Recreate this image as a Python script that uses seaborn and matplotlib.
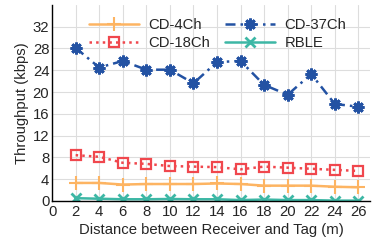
import numpy as np
import pandas as pd
import matplotlib
matplotlib.use('Agg')
import matplotlib.pyplot as plt
import seaborn as sns

dist = [2, 4, 6, 8, 10, 12, 14, 16, 18, 20, 22, 24, 26]
cd4 = [3.3, 3.3, 3.0, 3.1, 3.1, 3.1, 3.2, 3.1, 2.8, 2.8, 2.8, 2.6, 2.5]
cd18 = [8.4, 8.1, 7.0, 6.8, 6.4, 6.3, 6.2, 5.8, 6.3, 6.1, 5.9, 5.7, 5.5]
cd37 = [28.1, 24.5, 25.7, 24.1, 24.1, 21.6, 25.5, 25.7, 21.3, 19.5, 23.3, 17.8, 17.3]
rble = [0.5, 0.4, 0.3, 0.3, 0.35, 0.3, 0.3, 0.15, 0.25, 0.15, 0.15, 0.05, 0.05]

sns.set_style('whitegrid')
plt.rcParams['font.family'] = ['Liberation Sans', 'DejaVu Sans']

fig, ax = plt.subplots(figsize=(3.72, 2.45), dpi=100)
fig.subplots_adjust(left=0.14, right=0.995, bottom=0.18, top=0.98)

c4, c18, c37, cr = '#FDB462', '#F0474D', '#2352A3', '#3DB7A5'
sns.lineplot(x=dist, y=cd4, ax=ax, color=c4, marker='+', markersize=10,
             mec=c4, mew=1.5, linestyle='-', lw=1.8, label='CD-4Ch')
sns.lineplot(x=dist, y=cd18, ax=ax, color=c18, marker='s', markersize=6.5,
             mfc='none', mec=c18, mew=1.6, linestyle=':', lw=1.8, label='CD-18Ch')
sns.lineplot(x=dist, y=cd37, ax=ax, color=c37, marker=(8, 2, 0), markersize=8.5,
             mec=c37, mew=2.0, linestyle=(0, (4, 2, 1, 2)), lw=1.8, label='CD-37Ch')
sns.lineplot(x=dist, y=rble, ax=ax, color=cr, marker='x', markersize=6.5,
             mec=cr, mew=2.0, linestyle='-', lw=1.8, label='RBLE')

ax.set_xlim(0, 27)
ax.set_ylim(0, 36)
ax.set_xticks(range(0, 27, 2))
ax.set_yticks(range(0, 33, 4))
ax.tick_params(axis='x', labelsize=10.7, pad=3, length=0)
ax.tick_params(axis='y', labelsize=10.7, pad=2, length=0)
ax.grid(True, color='#DDDDDD', lw=0.8)
for s in ['top', 'right']:
    ax.spines[s].set_visible(False)
for s in ['left', 'bottom']:
    ax.spines[s].set_color('black')
    ax.spines[s].set_linewidth(1.0)
ax.set_xlabel('Distance between Receiver and Tag (m)', fontsize=10.7, labelpad=3)
ax.set_ylabel('Throughput (kbps)', fontsize=10.7, labelpad=3)

ax.legend(ncol=2, loc='upper center', bbox_to_anchor=(0.52, 1.0), frameon=False,
          fontsize=10.7, handlelength=3.4, columnspacing=1.0, labelspacing=0.25,
          handletextpad=0.6)

fig.savefig('out.png', dpi=100)
